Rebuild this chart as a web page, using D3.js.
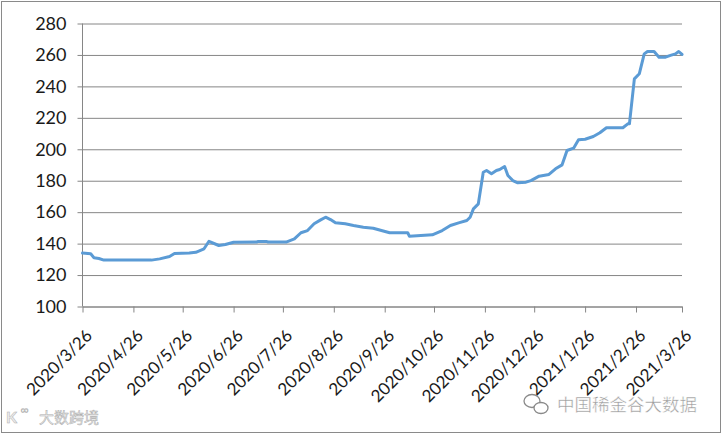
<!DOCTYPE html>
<html>
<head>
<meta charset="utf-8">
<script src="https://cdn.jsdelivr.net/npm/d3@7"></script>
<style>
  html, body { margin: 0; padding: 0; background: #fff; }
  svg { display: block; }
</style>
</head>
<body>
<svg id="chart" width="723" height="435"></svg>
<script>
// ---- data ----
const dates = [
  "2020/3/26","2020/3/31","2020/4/2","2020/4/5","2020/4/8","2020/5/7","2020/5/12","2020/5/18",
  "2020/5/21","2020/5/30","2020/6/3","2020/6/8","2020/6/11","2020/6/17","2020/6/21","2020/6/26",
  "2020/7/10","2020/7/11","2020/7/16","2020/7/17","2020/7/28","2020/8/2","2020/8/6","2020/8/10",
  "2020/8/14","2020/8/18","2020/8/21","2020/8/24","2020/8/27","2020/9/2","2020/9/7","2020/9/13",
  "2020/9/19","2020/9/24","2020/9/29","2020/10/10","2020/10/11","2020/10/25","2020/10/31","2020/11/5",
  "2020/11/10","2020/11/15","2020/11/17","2020/11/19","2020/11/22","2020/11/25","2020/11/27","2020/11/30",
  "2020/12/3","2020/12/5","2020/12/8","2020/12/10","2020/12/13","2020/12/16","2020/12/21","2020/12/24",
  "2020/12/29","2021/1/4","2021/1/8","2021/1/12","2021/1/15","2021/1/19","2021/1/22","2021/1/26",
  "2021/1/31","2021/2/4","2021/2/8","2021/2/18","2021/2/21","2021/2/22","2021/2/25","2021/2/28",
  "2021/3/3","2021/3/5","2021/3/9","2021/3/12","2021/3/16","2021/3/19","2021/3/22","2021/3/24","2021/3/26"
];
const prices = [
  134, 133.5, 131, 130.5, 129.5, 129.5, 130.3, 131.8,
  133.7, 134, 134.5, 136.7, 141.5, 138.8, 139.4, 140.9,
  141, 141.4, 141.4, 141, 141, 143, 146.9, 148.3,
  152.6, 155.1, 156.8, 155.3, 153.2, 152.6, 151.5, 150.4,
  149.8, 148.3, 146.9, 146.9, 144.7, 145.6, 148.3, 151.5,
  153.2, 154.7, 156.8, 162.1, 165.3, 185.4, 186.5, 184.4,
  186.5, 187.1, 189, 183.3, 180.1, 178.7, 179.1, 180.1,
  182.9, 184, 187.6, 190.1, 199.2, 200.7, 206, 206.4,
  208.1, 210.5, 213.7, 213.7, 216.2, 216.2, 244.8, 248,
  260.7, 262.2, 262.2, 258.6, 258.6, 259.7, 260.7, 262.2, 260.3
];
const xTickLabels = [
  "2020/3/26","2020/4/26","2020/5/26","2020/6/26","2020/7/26","2020/8/26","2020/9/26",
  "2020/10/26","2020/11/26","2020/12/26","2021/1/26","2021/2/26","2021/3/26"
];
const yTicks = [100, 120, 140, 160, 180, 200, 220, 240, 260, 280];

// ---- drawing ----
(function () {
const parse = d3.timeParse("%Y/%m/%d");
const data = dates.map((d, i) => ({ date: parse(d), value: prices[i] }));
const tickDates = xTickLabels.map(parse);

const svg = d3.select("#chart");
const pL = 82.5, pR = 682, pT = 23.5, pB = 306.5;

const x = d3.scaleTime().domain([tickDates[0], tickDates[tickDates.length - 1]]).range([pL, pR]);
const y = d3.scaleLinear().domain([100, 280]).range([pB, pT]);

// outer border
svg.append("rect").attr("x", 1.5).attr("y", 1.5).attr("width", 719).attr("height", 431)
  .attr("fill", "#fff").attr("stroke", "#8a8a8a").attr("stroke-width", 1);

// y axis with gridlines
const yAxis = d3.axisLeft(y).tickValues(yTicks).tickSize(-(pR - pL)).tickSizeOuter(0).tickPadding(16);
const gy = svg.append("g").attr("transform", `translate(${pL},0)`).call(yAxis);
gy.select(".domain").remove();
gy.selectAll(".tick line").attr("stroke", "#868686").attr("x1", -5);
gy.selectAll(".tick text")
  .attr("fill", "#1a1a1a").style("font-family", "Lato, 'Open Sans', sans-serif").style("font-size", "18px");

// y axis line
svg.append("line").attr("x1", pL).attr("x2", pL).attr("y1", pT).attr("y2", pB)
  .attr("stroke", "#868686");

// x axis
const xAxis = d3.axisBottom(x).tickValues(tickDates).tickSize(6).tickSizeOuter(0)
  .tickFormat((d, i) => xTickLabels[i]);
const gx = svg.append("g").attr("transform", `translate(0,${pB})`).call(xAxis);
gx.select(".domain").attr("stroke", "#868686");
gx.selectAll(".tick line").attr("stroke", "#868686");
gx.selectAll(".tick text")
  .attr("fill", "#1a1a1a")
  .style("font-family", "Lato, 'Open Sans', sans-serif").style("font-size", "17px")
  .attr("text-anchor", "end")
  .attr("dy", "0.35em")
  .attr("transform", "translate(6,26) rotate(-45)")
  .attr("y", 0).attr("x", 0);

// line
const line = d3.line().x(d => x(d.date)).y(d => y(d.value));
svg.append("path").datum(data).attr("d", line)
  .attr("fill", "none").attr("stroke", "#5b9bd5").attr("stroke-width", 3)
  .attr("stroke-linejoin", "round").attr("stroke-linecap", "round");

// watermarks
const wm = svg.append("g");
wm.append("text").attr("x", 39).attr("y", 423).text("大数跨境")
  .style("font-family", "'Noto Sans CJK SC', sans-serif").style("font-size", "15px")
  .attr("fill", "#ececec").attr("stroke", "#b0b0b0").attr("stroke-width", 0.5);
wm.append("text").attr("x", 6).attr("y", 423).text("K")
  .style("font-family", "Lato, sans-serif").style("font-size", "16px").style("font-weight", "bold")
  .attr("fill", "#ececec").attr("stroke", "#b0b0b0").attr("stroke-width", 0.5);
wm.append("text").attr("x", 20).attr("y", 414).text("∞")
  .style("font-family", "DejaVu Sans, sans-serif").style("font-size", "11px")
  .attr("fill", "#ececec").attr("stroke", "#b0b0b0").attr("stroke-width", 0.5);

// wechat-like icon
const ic = wm.append("g").attr("fill", "none").attr("stroke", "#8a8a8a").attr("stroke-width", 1.3);
ic.append("ellipse").attr("cx", 532).attr("cy", 401).attr("rx", 8).attr("ry", 6.5);
ic.append("ellipse").attr("cx", 541).attr("cy", 408).attr("rx", 7).attr("ry", 5.5).attr("fill", "#fff");
wm.append("text").attr("x", 557).attr("y", 411).text("中国稀金谷大数据")
  .style("font-family", "'Noto Sans CJK SC', sans-serif").style("font-size", "17.5px")
  .attr("fill", "#9a9a9a").attr("stroke", "#ffffff").attr("stroke-width", 0.4);
})();
</script>
</body>
</html>
